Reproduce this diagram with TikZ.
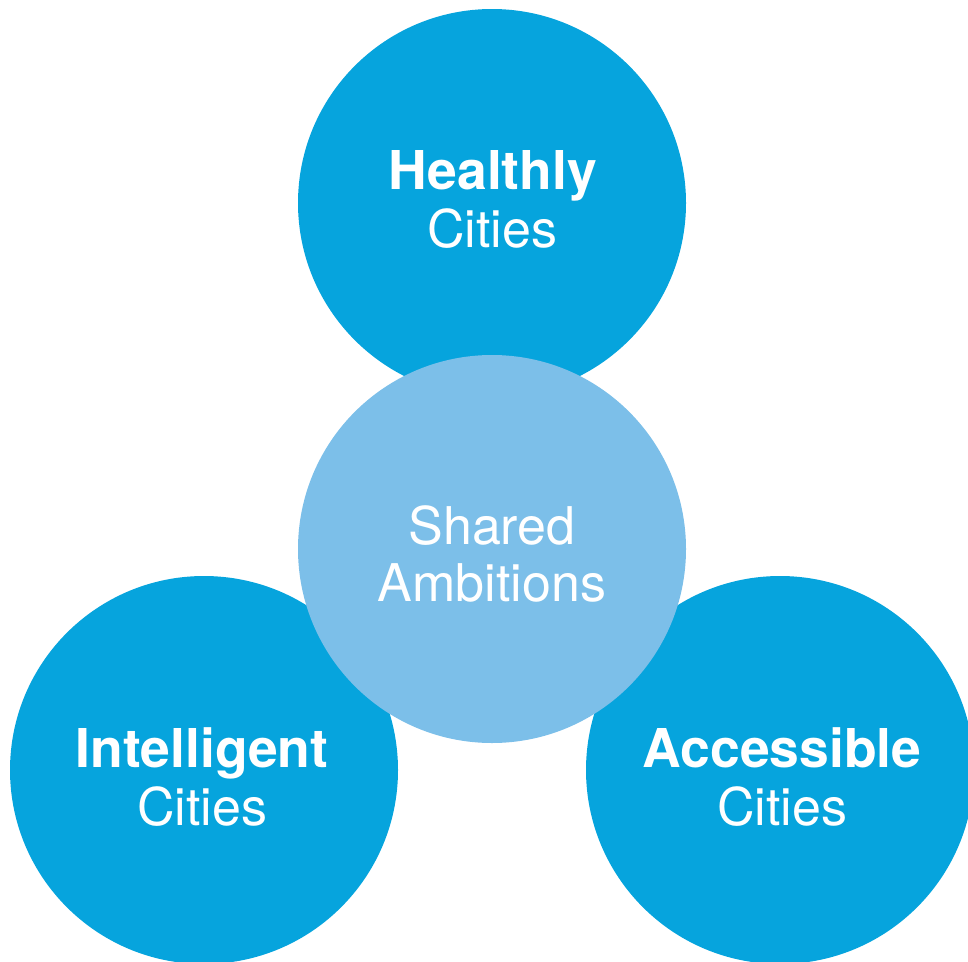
\documentclass[tikz,border=0pt]{standalone}
\usepackage{fontspec}
\setmainfont{TeX Gyre Heros}
\definecolor{cityblue}{HTML}{06A4DD}
\definecolor{sharedblue}{HTML}{7CBFE9}
\begin{document}
\begin{tikzpicture}[x=1pt,y=-1pt,
  disc/.style={circle,minimum size=388pt,inner sep=0pt,draw=none},
  city/.style={disc,fill=cityblue},
  shared/.style={disc,fill=sharedblue},
  boldtxt/.style={text=white,font=\fontsize{53.5}{58}\selectfont\bfseries,anchor=base,inner sep=0pt},
  lighttxt/.style={text=white,font=\fontsize{52}{58}\selectfont,anchor=base,inner sep=0pt}]
  \useasboundingbox (0,0) rectangle (968,961);
  \clip (0,0) rectangle (968,961);
  % outer circles
  \node[city] (healthy) at (492,203) {};
  \node[city] (intelligent) at (204,770) {};
  \node[city] (accessible) at (780,770) {};
  % central circle overlaps the three
  \node[shared] (core) at (492,549) {};
  % labels
  \node[boldtxt] (h1) at (493,189) {Healthly};
  \node[lighttxt] (h2) at (492,247) {Cities};
  \node[lighttxt] (s1) at (492,544) {Shared};
  \node[lighttxt] (s2) at (492,601) {Ambitions};
  \node[boldtxt] (i1) at (202,767) {Intelligent};
  \node[lighttxt] (i2) at (202,825) {Cities};
  \node[boldtxt] (a1) at (782,767) {Accessible};
  \node[lighttxt] (a2) at (782,825) {Cities};
\end{tikzpicture}
\end{document}
